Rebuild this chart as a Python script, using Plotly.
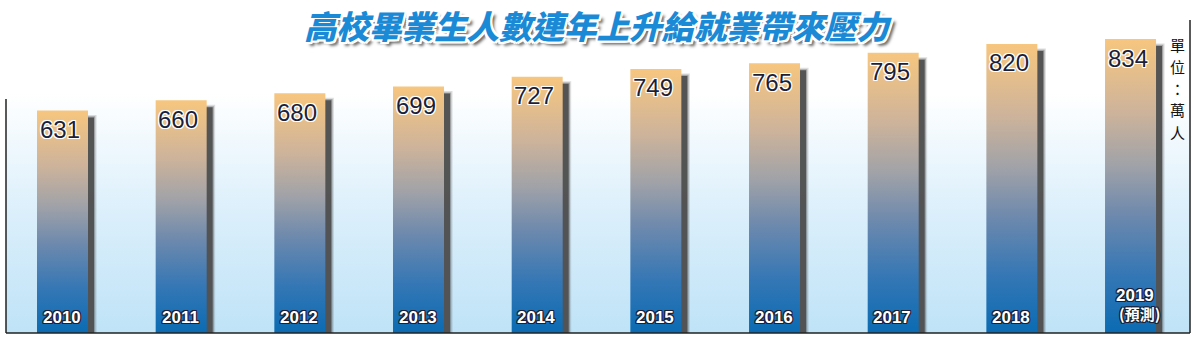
import plotly.graph_objects as go

# ---------------- data ----------------
years = ["2010", "2011", "2012", "2013", "2014", "2015", "2016", "2017", "2018", "2019"]
values = [631, 660, 680, 699, 727, 749, 765, 795, 820, 834]
forecast_note = "(預測)"
title_text = "高校畢業生人數連年上升給就業帶來壓力"
unit_chars = ["單", "位", "：", "萬", "人"]

# ---------------- geometry ----------------
W, H = 1196, 338
ML, MR, MT, MB = 6, 6, 20, 5
PX_PER_CAT = 118.67
PX_PER_VAL = 0.3525
plot_w = W - ML - MR
plot_h = H - MT - MB
x_lo = -(62.5 - ML) / PX_PER_CAT
x_hi = x_lo + plot_w / PX_PER_CAT
y_hi = plot_h / PX_PER_VAL

half_w = 25.5 / PX_PER_CAT
sh_dx = 6 / PX_PER_CAT
sh_dy = 7 / PX_PER_VAL


def px_x(p):
    return (p - ML) / plot_w


def px_y(p):
    return (H - MB - p) / plot_h


bar_scale = [
    [0.0, "#0a6bb3"],
    [0.2, "#3577b5"],
    [0.4, "#6d89ad"],
    [0.57, "#a0a2a8"],
    [0.76, "#cfb49a"],
    [1.0, "#f7c67f"],
]

fig = go.Figure()

# background gradient
fig.add_trace(go.Scatter(
    x=[x_lo, x_hi, x_hi, x_lo, x_lo],
    y=[0, 0, 680, 680, 0],
    mode="lines", line=dict(width=0), fill="toself",
    fillgradient=dict(type="vertical", colorscale=[[0, "#bfe3f7"], [0.5, "#dbeffb"], [1, "#ffffff"]],
                      start=0, stop=680),
    hoverinfo="skip", showlegend=False,
))

# shadows + bars
for i, v in enumerate(values):
    for grow, col in [(2.5, "rgba(70,70,70,0.18)"), (1.2, "rgba(60,60,60,0.35)"), (0, "rgba(75,75,75,0.9)")]:
        g = grow / PX_PER_CAT
        gy = grow / PX_PER_VAL
        x0 = i - half_w + sh_dx - g
        x1 = i + half_w + sh_dx + g
        y1 = v - sh_dy + gy
        fig.add_trace(go.Scatter(
            x=[x0, x1, x1, x0, x0], y=[0, 0, y1, y1, 0],
            mode="lines", line=dict(width=0), fill="toself", fillcolor=col,
            hoverinfo="skip", showlegend=False,
        ))
    fig.add_trace(go.Scatter(
        x=[i - half_w, i + half_w, i + half_w, i - half_w, i - half_w],
        y=[0, 0, v, v, 0],
        mode="lines", line=dict(width=0), fill="toself",
        fillgradient=dict(type="vertical", colorscale=bar_scale),
        hoverinfo="skip", showlegend=False,
    ))

offs = [(-1, -1), (1, -1), (-1, 1), (1, 1), (0, 1), (0, -1), (1, 0), (-1, 0)]
white_outline = ", ".join(f"{dx}px {dy}px 0 #ffffff" for dx, dy in offs)
dark_outline = ", ".join(f"{dx}px {dy}px 0 #1d2035" for dx, dy in offs)

annotations = []
for i, v in enumerate(values):
    annotations.append(dict(
        x=i, y=v, xref="x", yref="y", text=str(v), showarrow=False,
        xshift=-3, yshift=-19, yanchor="middle",
        font=dict(family="Liberation Sans, Arial", size=24, color="#1d1f36", shadow=white_outline),
    ))
for i, yr in enumerate(years):
    last = i == len(years) - 1
    annotations.append(dict(
        x=i, y=0, xref="x", yref="y", text=yr, showarrow=False,
        xshift=4 if last else -1, yshift=38 if last else 16, yanchor="middle",
        font=dict(family="Liberation Sans, Arial", size=17, color="#ffffff",
                  weight="bold", shadow=dark_outline),
    ))
annotations.append(dict(
    x=len(years) - 1, y=0, xref="x", yref="y", text=forecast_note, showarrow=False,
    xshift=9, yshift=20, yanchor="middle",
    font=dict(family="Noto Sans CJK TC", size=15, color="#ffffff", weight="bold", shadow=dark_outline),
))

# unit text (vertical, one annotation per character)
UNIT_TOP, UNIT_PITCH = 44, 22
for k, ch in enumerate(unit_chars):
    annotations.append(dict(
        x=px_x(1177), y=px_y(UNIT_TOP + k * UNIT_PITCH), xref="paper", yref="paper", text=ch,
        showarrow=False, xanchor="center", yanchor="middle", borderpad=0,
        font=dict(family="Noto Sans CJK TC", size=15, color="#111111"),
    ))

# title
title_shadow = ", ".join(
    [f"{dx}px {dy}px 0 #ffffff" for dx, dy in
     [(-2, -2), (2, -2), (-2, 2), (2, 2), (0, 2), (0, -2), (2, 0), (-2, 0)]]
    + ["4px 4px 3px #6a6a6a"]
)
annotations.append(dict(
    x=px_x(598), y=px_y(25), xref="paper", yref="paper", text=title_text, showarrow=False,
    xanchor="center", yanchor="middle",
    font=dict(family="Noto Sans CJK TC", size=32.5, color="#1b8ad6", weight=900, style="italic",
              shadow=title_shadow),
))

shapes = [
    dict(type="line", xref="paper", yref="paper", x0=0, x1=0, y0=0, y1=px_y(99),
         line=dict(color="#222222", width=1.5)),
    dict(type="line", xref="paper", yref="paper", x0=0, x1=1, y0=0, y1=0,
         line=dict(color="#222222", width=1.5)),
    dict(type="line", xref="paper", yref="paper", x0=1, x1=1, y0=0, y1=1,
         line=dict(color="#222222", width=1.5)),
]

fig.update_layout(
    width=W, height=H,
    margin=dict(l=ML, r=MR, t=MT, b=MB, pad=0),
    paper_bgcolor="#ffffff", plot_bgcolor="#ffffff",
    xaxis=dict(range=[x_lo, x_hi], visible=False, fixedrange=True),
    yaxis=dict(range=[0, y_hi], visible=False, fixedrange=True),
    showlegend=False,
    annotations=annotations,
    shapes=shapes,
)

fig.write_html("out.html", config={"displayModeBar": False})
